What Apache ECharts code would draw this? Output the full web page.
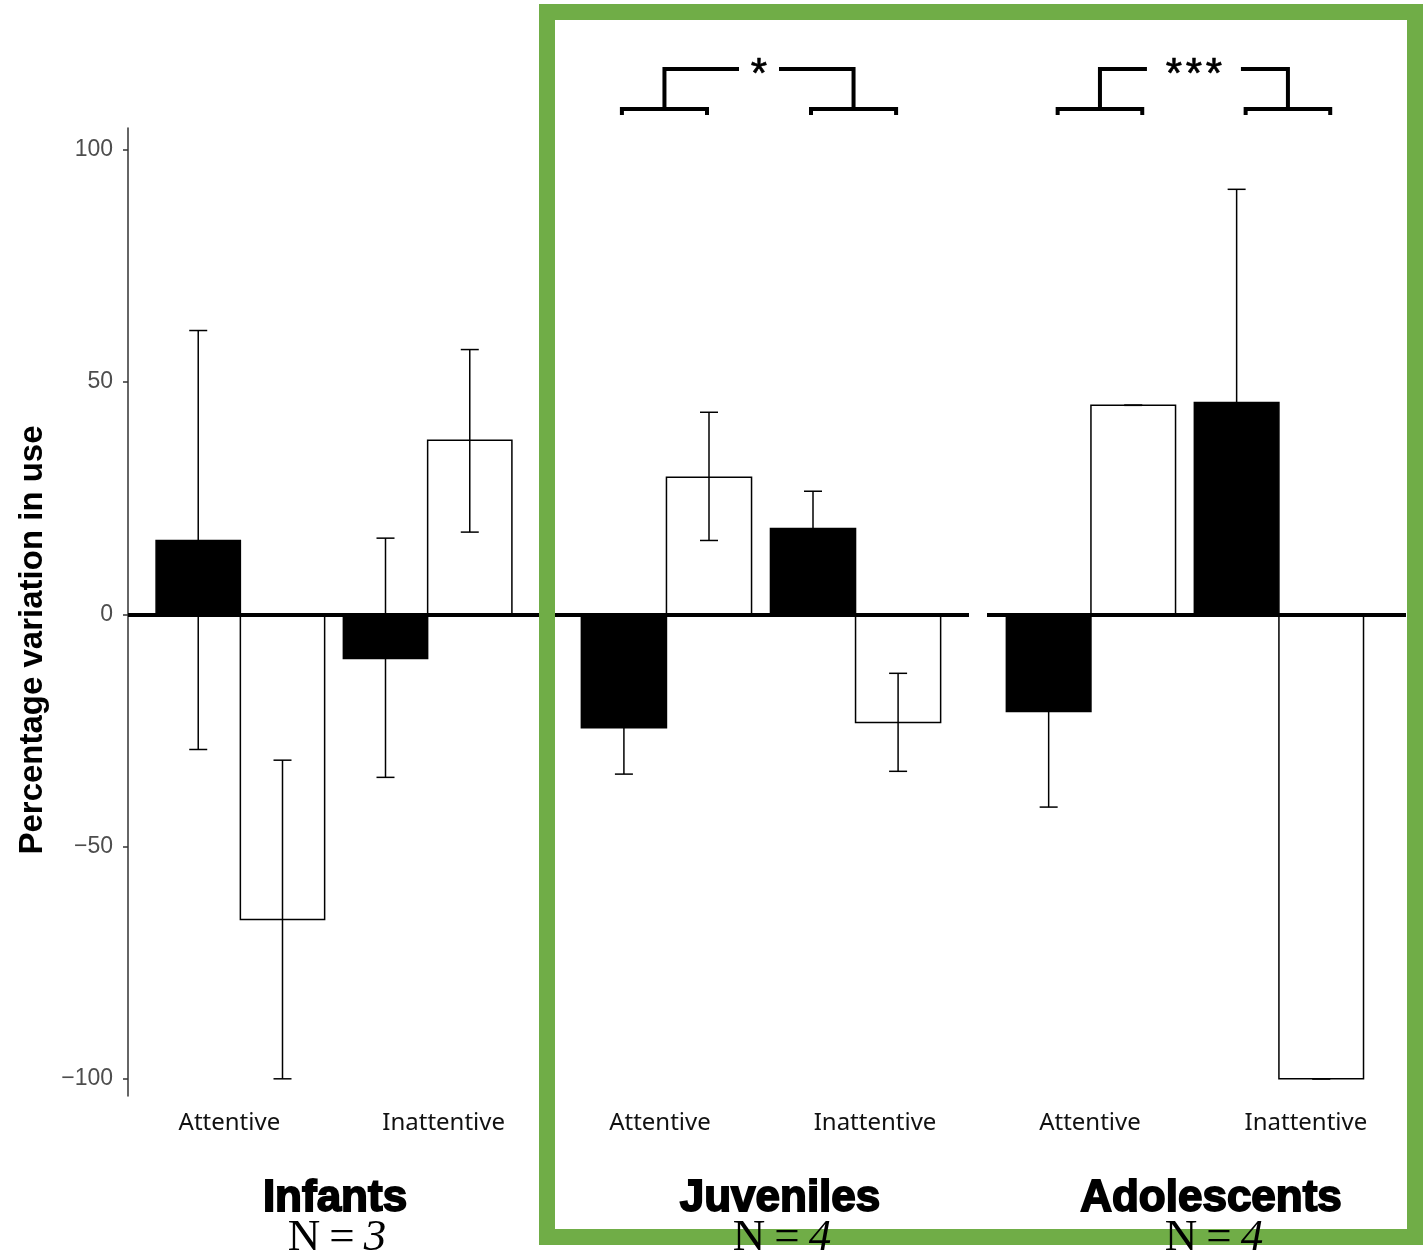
<!DOCTYPE html>
<html>
<head>
<meta charset="utf-8">
<script src="https://cdn.jsdelivr.net/npm/echarts@6/dist/echarts.min.js"></script>
<style>
  html, body { margin: 0; padding: 0; background: #fff; }
  #chart { width: 1423px; height: 1255px; }
</style>
</head>
<body>
<div id="chart"></div>
<script>
// ---- data ----
const groups = ['Infants', 'Juveniles', 'Adolescents'];
const groupN = [3, 4, 4];
const conditions = ['Attentive', 'Inattentive'];
const yTicks = [-100, -50, 0, 50, 100];

// filled bars: [group][condition]
const filledMean = [[15.9, -9.5], [-24.4, 18.5], [-20.9, 45.6]];
const filledLow  = [[-29.1, -35.1], [-34.4, 10.5], [-41.5, -0.3]];
const filledHigh = [[61.1, 16.4], [-14.4, 26.5], [-0.3, 91.5]];

// open bars: [group][condition]
const openMean = [[-65.7, 37.5], [29.5, -23.3], [45.0, -100]];
const openLow  = [[-100, 17.7], [15.9, -33.8], [45.0, -100]];
const openHigh = [[-31.4, 57.0], [43.5, -12.7], [45.0, -100]];

// significance between conditions within each group
const sigLabels = ['', '*', '***'];

// ---- layout ----
const Y_MIN = -103.7, Y_MAX = 104.7;
const GRID_TOP = 128, GRID_HEIGHT = 968;
const BAR_W = 0.45;          // bar width in category units
const CAP_HALF = 9;          // error bar cap half width, px
const BRACKET_Y = 108.8;     // value level of the bracket feet
const STAR_STEP = 20;        // px between asterisks
const panels = [
  { left: 128, width: 412, xMin: 0.4,   xMax: 2.6,   labelShift: [-11, 16],   titleX: 335, nX: 337,  bracketShift: 0, starGap: 20 },
  { left: 553, width: 416, xMin: 0.4,   xMax: 2.6,   labelShift: [-6.5, 19.5], titleX: 780, nX: 782,  bracketShift: -2, starGap: 20 },
  { left: 987, width: 419, xMin: 0.447, xMax: 2.676, labelShift: [-1, 27],    titleX: 1211, nX: 1214, bracketShift: 9, starGap: 47 }
];
const FONT = "'Liberation Sans', Arial, sans-serif";

function barData(g) {
  const out = [];
  conditions.forEach((c, ci) => {
    out.push([ci + 1, filledMean[g][ci], filledLow[g][ci], filledHigh[g][ci], 0]);
    out.push([ci + 1, openMean[g][ci], openLow[g][ci], openHigh[g][ci], 1]);
  });
  return out;
}

function barLeft(x, kind) { return kind === 0 ? x - BAR_W : x; }

function renderBar(params, api) {
  const x = api.value(0), v = api.value(1), kind = api.value(4);
  const l = barLeft(x, kind);
  const p0 = api.coord([l, v]);
  const p1 = api.coord([l + BAR_W, 0]);
  return {
    type: 'rect',
    shape: { x: p0[0], y: Math.min(p0[1], p1[1]), width: p1[0] - p0[0], height: Math.abs(p1[1] - p0[1]) },
    style: { fill: kind === 0 ? '#000' : '#fff', stroke: '#000', lineWidth: 1.5 }
  };
}

function renderErr(params, api) {
  const x = api.value(0), kind = api.value(4);
  const cx = barLeft(x, kind) + BAR_W / 2;
  const lo = api.coord([cx, api.value(2)]);
  const hi = api.coord([cx, api.value(3)]);
  const st = { stroke: '#000', lineWidth: 1.5, fill: null };
  return {
    type: 'group',
    children: [
      { type: 'line', shape: { x1: lo[0], y1: lo[1], x2: hi[0], y2: hi[1] }, style: st },
      { type: 'line', shape: { x1: lo[0] - CAP_HALF, y1: lo[1], x2: lo[0] + CAP_HALF, y2: lo[1] }, style: st },
      { type: 'line', shape: { x1: hi[0] - CAP_HALF, y1: hi[1], x2: hi[0] + CAP_HALF, y2: hi[1] }, style: st }
    ]
  };
}

function makeBracketRenderer(g) {
  return function (params, api) {
    const p = panels[g];
    const yb = api.coord([1, BRACKET_Y])[1];
    const yt = yb - 40;
    const pos = c => ({
      l: api.coord([c - BAR_W / 2, 0])[0] + p.bracketShift,
      m: api.coord([c, 0])[0] + p.bracketShift,
      r: api.coord([c + BAR_W / 2, 0])[0] + p.bracketShift
    });
    const a = pos(api.value(0)), b = pos(api.value(1));
    const mid = (a.m + b.m) / 2;
    const st = { stroke: '#000', lineWidth: 4, fill: null, lineJoin: 'miter', lineCap: 'butt' };
    const children = [
      { type: 'polyline', shape: { points: [[a.l, yb + 6], [a.l, yb], [a.r, yb], [a.r, yb + 6]] }, style: st },
      { type: 'polyline', shape: { points: [[a.m, yb], [a.m, yt], [mid - p.starGap, yt]] }, style: st },
      { type: 'polyline', shape: { points: [[b.l, yb + 6], [b.l, yb], [b.r, yb], [b.r, yb + 6]] }, style: st },
      { type: 'polyline', shape: { points: [[b.m, yb], [b.m, yt], [mid + p.starGap, yt]] }, style: st }
    ];
    const stars = sigLabels[g].split('');
    stars.forEach((s, i) => {
      children.push({
        type: 'text', x: mid + (i - (stars.length - 1) / 2) * STAR_STEP, y: yt + 6,
        style: { text: s, fontSize: 42, fontFamily: FONT, fill: '#000', stroke: '#000', lineWidth: 0.6,
          align: 'center', verticalAlign: 'middle' }
      });
    });
    return { type: 'group', children: children };
  };
}

const grids = [], xAxes = [], yAxes = [], series = [];
panels.forEach((p, g) => {
  grids.push({ left: p.left, width: p.width, top: GRID_TOP, height: GRID_HEIGHT, containLabel: false });

  const rich = {};
  conditions.forEach((c, ci) => {
    const s = p.labelShift[ci];
    rich['c' + ci] = {
      fontSize: 24, fontFamily: "'Noto Sans', 'Open Sans', sans-serif", color: '#111',
      padding: s < 0 ? [0, -2 * s, 0, 0] : [0, 0, 0, 2 * s]
    };
  });
  xAxes.push({
    type: 'value', gridIndex: g, min: p.xMin, max: p.xMax,
    axisLine: { show: false }, axisTick: { show: false }, splitLine: { show: false },
    axisLabel: {
      customValues: [1, 2], margin: 15,
      formatter: v => { const i = Math.round(v) - 1; return '{c' + i + '|' + conditions[i] + '}'; },
      rich: rich
    }
  });

  yAxes.push({
    type: 'value', gridIndex: g, min: Y_MIN, max: Y_MAX, show: g === 0,
    splitLine: { show: false },
    axisLine: { show: g === 0, lineStyle: { color: '#333', width: 1.5 } },
    axisTick: { show: g === 0, customValues: yTicks, length: 5, lineStyle: { color: '#333', width: 1.5 } },
    axisLabel: {
      show: g === 0, customValues: yTicks, margin: 15, fontSize: 23, fontFamily: FONT, color: '#4d4d4d',
      formatter: v => String(v).replace('-', '\u2212')
    }
  });

  series.push({
    type: 'custom', name: groups[g] + ' bars', xAxisIndex: g, yAxisIndex: g, z: 2,
    renderItem: renderBar, data: barData(g)
  });
  series.push({
    type: 'custom', name: groups[g] + ' error', xAxisIndex: g, yAxisIndex: g, z: 3,
    renderItem: renderErr, data: barData(g),
    markLine: {
      silent: true, symbol: ['none', 'none'], label: { show: false },
      lineStyle: { color: '#000', width: 4, type: 'solid' },
      data: [{ yAxis: 0 }]
    }
  });
  if (sigLabels[g]) {
    series.push({
      type: 'custom', name: groups[g] + ' significance', xAxisIndex: g, yAxisIndex: g, z: 5,
      clip: false, renderItem: makeBracketRenderer(g), data: [[1, 2]]
    });
  }
});

const graphic = [
  {
    type: 'rect', z: 50,
    shape: { x: 547, y: 12, width: 868, height: 1225 },
    style: { fill: null, stroke: '#70AD47', lineWidth: 16 }
  },
  {
    type: 'text', x: 33, y: 640, rotation: Math.PI / 2, z: 60,
    style: { text: 'Percentage variation in use', fontSize: 33, fontWeight: 'bold', fontFamily: FONT, fill: '#000', align: 'center', verticalAlign: 'middle' }
  }
];
panels.forEach((p, g) => {
  graphic.push({
    type: 'text', x: p.titleX, y: 1199, z: 60,
    style: { text: groups[g], fontSize: 44, fontWeight: 'bold', fontFamily: FONT, fill: '#000',
      stroke: '#000', lineWidth: 1.8, align: 'center', verticalAlign: 'middle' }
  });
  graphic.push({
    type: 'text', x: p.nX, y: 1238, z: 60,
    style: {
      text: '{n|N\u2009=\u2009}{d|' + groupN[g] + '}', align: 'center', verticalAlign: 'middle',
      rich: {
        n: { fontSize: 45, fontFamily: "'Liberation Serif', 'DejaVu Serif', serif", fill: '#000' },
        d: { fontSize: 45, fontFamily: "'Liberation Serif', 'DejaVu Serif', serif", fontStyle: 'italic', fill: '#000' }
      }
    }
  });
});

const chart = echarts.init(document.getElementById('chart'), null, { renderer: 'canvas' });
chart.setOption({
  backgroundColor: '#fff',
  animation: false,
  grid: grids, xAxis: xAxes, yAxis: yAxes, series: series, graphic: graphic
});
</script>
</body>
</html>
